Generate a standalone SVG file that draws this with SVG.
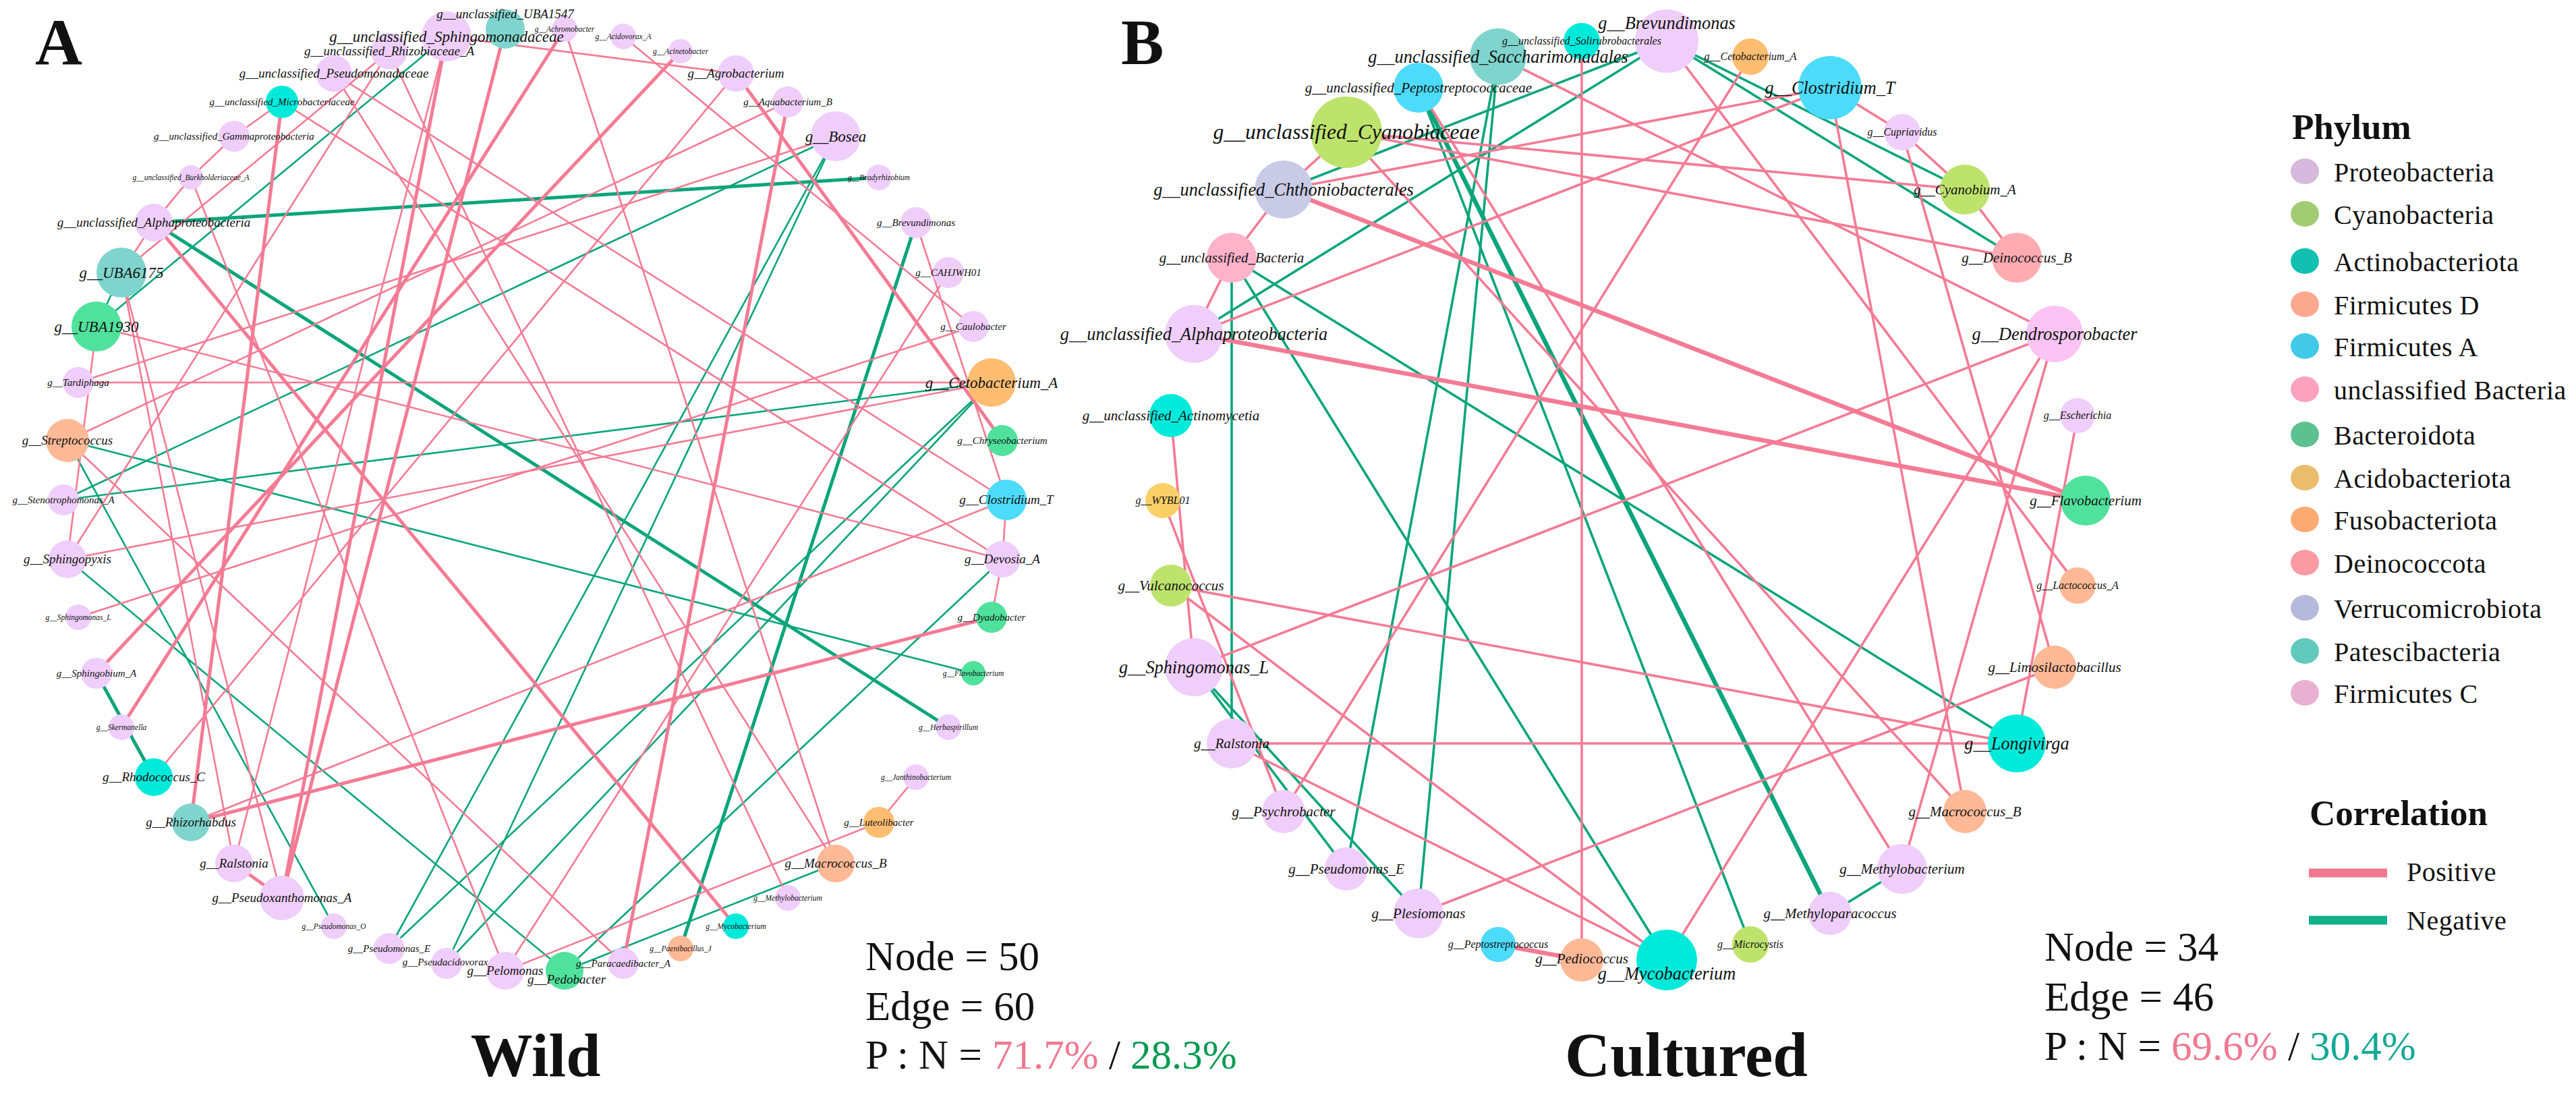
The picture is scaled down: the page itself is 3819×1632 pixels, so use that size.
<svg xmlns="http://www.w3.org/2000/svg" width="3819" height="1632" viewBox="0 0 3819 1632">
<style>
.bg{fill:#ffffff}
.e line{fill:none;stroke-linecap:round}
.p{stroke:#f47b94}
.n{stroke:#0aa57a}
.a1{stroke-width:2.6}
.a2{stroke-width:5}
.b1{stroke-width:3.6}
.b2{stroke-width:6.5}
.pro{fill:#efcefb}.cya{fill:#bde36d}.act{fill:#00eadb}.fd{fill:#ffb996}.fa{fill:#4ddbfb}.ub{fill:#ffb3cb}
.bac{fill:#50e29c}.aci{fill:#f9cf68}.fus{fill:#ffbd72}.dei{fill:#ffabb2}.ver{fill:#c8cae6}.pat{fill:#7fd5cd}.fc{fill:#fbc4f4}
.lb text{font-family:"Liberation Serif","Times New Roman",serif;font-style:italic;fill:#111;text-anchor:middle}
.s11{font-size:11.5px}.s15{font-size:15px}.s19{font-size:19px}.s23{font-size:23px}
.z16{font-size:16px}.z21{font-size:21px}.z26{font-size:26.3px}.z32{font-size:31.6px}
.big{font-family:"Liberation Serif","Times New Roman",serif;font-weight:bold;fill:#111}
.stat{font-family:"Liberation Serif","Times New Roman",serif;font-size:61px;fill:#111}
.leg{font-family:"Liberation Serif","Times New Roman",serif;font-size:40px;fill:#111;letter-spacing:0.5px}
.lh{font-family:"Liberation Serif","Times New Roman",serif;font-size:53px;font-weight:bold;fill:#111}
.lpro{fill:#d6b9dc}.lcya{fill:#a2cc74}.lact{fill:#12c0b2}.lfd{fill:#fca88e}.lfa{fill:#42c9e8}.lub{fill:#fca2bf}
.lbac{fill:#5cc18e}.laci{fill:#e9bd6c}.lfus{fill:#fcaa72}.ldei{fill:#fc9aa4}.lver{fill:#b5b9dc}.lpat{fill:#62c9bd}.lfc{fill:#e9b1d1}
</style>
<rect class="bg" x="0" y="0" width="3819" height="1632"/>
<text class="big" x="52" y="95" font-size="97">A</text>
<text class="big" x="1662" y="95" font-size="95">B</text>

<g id="connectors" class="e">
<!-- Panel A negative -->
<line class="n a2" x1="228" y1="330" x2="1303" y2="263"/>
<line class="n a2" x1="228" y1="330" x2="1406" y2="1078"/>
<line class="n a2" x1="1358" y1="330" x2="1009" y2="1406"/>
<line class="n a1" x1="1239" y1="202" x2="577" y2="1406"/>
<line class="n a1" x1="1239" y1="202" x2="662" y2="1428"/>
<line class="n a1" x1="1470" y1="567" x2="577" y2="1406"/>
<line class="n a1" x1="1470" y1="567" x2="662" y2="1428"/>
<line class="n a1" x1="837" y1="1439" x2="1486" y2="829"/>
<line class="n a1" x1="1239" y1="1280" x2="837" y2="1439"/>
<line class="n a1" x1="100" y1="653" x2="495" y2="1373"/>
<line class="n a1" x1="100" y1="829" x2="837" y2="1439"/>
<line class="n a1" x1="100" y1="653" x2="1443" y2="998"/>
<line class="n a1" x1="94" y1="741" x2="1470" y2="567"/>
<line class="n a1" x1="94" y1="741" x2="1239" y2="202"/>
<line class="n a1" x1="143" y1="484" x2="662" y2="54"/>
<line class="n a1" x1="180" y1="404" x2="143" y2="484"/>
<line class="n a2" x1="143" y1="998" x2="228" y2="1152"/>
<!-- Panel A positive -->
<line class="p a1" x1="116" y1="567" x2="1470" y2="567" stroke-width="2"/>
<line class="p a1" x1="116" y1="567" x2="1239" y2="202"/>
<line class="p a1" x1="662" y1="54" x2="1091" y2="109"/>
<line class="p a2" x1="1009" y1="76" x2="143" y2="998"/>
<line class="p a2" x1="837" y1="43" x2="180" y2="1078"/>
<line class="p a1" x1="1168" y1="151" x2="100" y2="653"/>
<line class="p a2" x1="1168" y1="151" x2="924" y2="1428"/>
<line class="p a2" x1="1091" y1="109" x2="1486" y2="653"/>
<line class="p a2" x1="228" y1="330" x2="1091" y2="1373"/>
<line class="p a1" x1="143" y1="484" x2="100" y2="829"/>
<line class="p a1" x1="418" y1="151" x2="347" y2="202"/>
<line class="p a1" x1="347" y1="202" x2="283" y2="263"/>
<line class="p a1" x1="283" y1="263" x2="228" y2="330"/>
<line class="p a1" x1="180" y1="404" x2="228" y2="330"/>
<line class="p a1" x1="1358" y1="1152" x2="1303" y2="1219"/>
<line class="p a1" x1="1303" y1="1219" x2="749" y2="1439"/>
<line class="p a2" x1="347" y1="1280" x2="418" y2="1331"/>
<line class="p a2" x1="283" y1="1219" x2="1470" y2="915"/>
<line class="p a1" x1="283" y1="1219" x2="1492" y2="741"/>
<line class="p a2" x1="283" y1="1219" x2="418" y2="151"/>
<line class="p a1" x1="228" y1="1152" x2="1091" y2="109"/>
<line class="p a1" x1="1443" y1="484" x2="116" y2="915"/>
<line class="p a1" x1="1406" y1="404" x2="749" y2="1439"/>
<line class="p a1" x1="924" y1="54" x2="1443" y2="484"/>
<line class="p a2" x1="418" y1="1331" x2="749" y2="43"/>
<line class="p a2" x1="418" y1="1331" x2="662" y2="54"/>
<line class="p a1" x1="347" y1="1280" x2="180" y2="404"/>
<line class="p a1" x1="180" y1="404" x2="418" y2="1331"/>
<line class="p a1" x1="180" y1="404" x2="577" y2="76"/>
<line class="p a1" x1="495" y1="109" x2="1492" y2="741"/>
<line class="p a1" x1="577" y1="76" x2="1168" y2="1331"/>
<line class="p a1" x1="418" y1="151" x2="1486" y2="829"/>
<line class="p a1" x1="1486" y1="829" x2="1470" y2="915"/>
<line class="p a1" x1="1492" y1="741" x2="1486" y2="829"/>
<line class="p a1" x1="1358" y1="330" x2="1492" y2="741"/>
<line class="p a1" x1="495" y1="109" x2="1239" y2="1280"/>
<line class="p a1" x1="100" y1="653" x2="924" y2="1428"/>
<line class="p a1" x1="283" y1="263" x2="749" y2="1439"/>
<line class="p a1" x1="100" y1="829" x2="577" y2="76"/>
<line class="p a1" x1="347" y1="1280" x2="662" y2="54"/>
<line class="p a1" x1="143" y1="484" x2="1486" y2="829"/>
<line class="p a1" x1="1470" y1="567" x2="100" y2="829"/>
<line class="p a1" x1="837" y1="43" x2="1239" y2="1280"/>
<!-- Panel B negative -->
<line class="n b1" x1="1826" y1="382" x2="1826" y2="1102"/>
<line class="n b1" x1="1826" y1="382" x2="2471" y2="1423"/>
<line class="n b1" x1="1826" y1="382" x2="2990" y2="1102"/>
<line class="n b1" x1="1770" y1="495" x2="2471" y2="61"/>
<line class="n b1" x1="1903" y1="281" x2="2471" y2="61"/>
<line class="n b2" x1="2103" y1="130" x2="2713" y2="1354"/>
<line class="n b1" x1="2103" y1="130" x2="2595" y2="1400"/>
<line class="n b1" x1="2221" y1="84" x2="2103" y2="1354"/>
<line class="n b1" x1="2221" y1="84" x2="1996" y2="1288"/>
<line class="n b1" x1="2471" y1="61" x2="2913" y2="281"/>
<line class="n b1" x1="2471" y1="61" x2="2990" y2="382"/>
<line class="n b1" x1="1770" y1="989" x2="1996" y2="1288"/>
<line class="n b1" x1="1770" y1="989" x2="2103" y2="1354"/>
<line class="n b1" x1="2713" y1="1354" x2="2820" y2="1288"/>
<!-- Panel B positive -->
<line class="p b1" x1="2345" y1="61" x2="2345" y2="1423"/>
<line class="p b1" x1="1826" y1="1102" x2="2990" y2="1102"/>
<line class="p b2" x1="1770" y1="495" x2="3092" y2="742"/>
<line class="p b2" x1="1903" y1="281" x2="3092" y2="742"/>
<line class="p b1" x1="1996" y1="196" x2="2913" y2="281"/>
<line class="p b1" x1="1996" y1="196" x2="2990" y2="382"/>
<line class="p b1" x1="2471" y1="61" x2="3080" y2="868"/>
<line class="p b1" x1="2103" y1="130" x2="2820" y2="1288"/>
<line class="p b1" x1="1996" y1="196" x2="2913" y2="1203"/>
<line class="p b1" x1="2713" y1="130" x2="2913" y2="1203"/>
<line class="p b1" x1="2713" y1="130" x2="1903" y2="281"/>
<line class="p b1" x1="2713" y1="130" x2="1770" y2="495"/>
<line class="p b1" x1="2595" y1="84" x2="1903" y2="1203"/>
<line class="p b1" x1="2713" y1="130" x2="2820" y2="196"/>
<line class="p b1" x1="2820" y1="196" x2="2913" y2="281"/>
<line class="p b1" x1="2820" y1="196" x2="3046" y2="989"/>
<line class="p b1" x1="2990" y1="382" x2="2913" y2="281"/>
<line class="p b1" x1="2221" y1="84" x2="3046" y2="495"/>
<line class="p b1" x1="3046" y1="495" x2="1770" y2="989"/>
<line class="p b1" x1="3046" y1="495" x2="2471" y2="1423"/>
<line class="p b1" x1="3046" y1="495" x2="2820" y2="1288"/>
<line class="p b1" x1="3080" y1="616" x2="2990" y2="1102"/>
<line class="p b1" x1="1736" y1="868" x2="2990" y2="1102"/>
<line class="p b1" x1="1736" y1="868" x2="2471" y2="1423"/>
<line class="p b1" x1="1724" y1="742" x2="1903" y2="1203"/>
<line class="p b1" x1="1736" y1="616" x2="1770" y2="989"/>
<line class="p b1" x1="1770" y1="495" x2="1826" y2="382"/>
<line class="p b1" x1="1826" y1="382" x2="1903" y2="281"/>
<line class="p b1" x1="1903" y1="281" x2="1996" y2="196"/>
<line class="p b1" x1="1826" y1="1102" x2="2471" y2="1423"/>
<line class="p b1" x1="2103" y1="1354" x2="3046" y2="989"/>
<line class="p b2" x1="2221" y1="1400" x2="2345" y2="1423"/>
</g>

<g id="nodes-A">
<g id="a-Achromobacter"><circle class="pro" cx="837" cy="43" r="19"/></g>
<g id="a-Acidovorax_A"><circle class="pro" cx="924" cy="54" r="19"/></g>
<g id="a-Acinetobacter"><circle class="pro" cx="1009" cy="76" r="18"/></g>
<g id="a-Agrobacterium"><circle class="pro" cx="1091" cy="109" r="27"/></g>
<g id="a-Aquabacterium_B"><circle class="pro" cx="1168" cy="151" r="23"/></g>
<g id="a-Bosea"><circle class="pro" cx="1239" cy="202" r="37"/></g>
<g id="a-Bradyrhizobium"><circle class="pro" cx="1303" cy="263" r="19"/></g>
<g id="a-Brevundimonas"><circle class="pro" cx="1358" cy="330" r="23"/></g>
<g id="a-CAHJWH01"><circle class="pro" cx="1406" cy="404" r="23"/></g>
<g id="a-Caulobacter"><circle class="pro" cx="1443" cy="484" r="23"/></g>
<g id="a-Cetobacterium_A"><circle class="fus" cx="1470" cy="567" r="36"/></g>
<g id="a-Chryseobacterium"><circle class="bac" cx="1486" cy="653" r="23"/></g>
<g id="a-Clostridium_T"><circle class="fa" cx="1492" cy="741" r="30"/></g>
<g id="a-Devosia_A"><circle class="pro" cx="1486" cy="829" r="27"/></g>
<g id="a-Dyadobacter"><circle class="bac" cx="1470" cy="915" r="23"/></g>
<g id="a-Flavobacterium"><circle class="bac" cx="1443" cy="998" r="18"/></g>
<g id="a-Herbaspirillum"><circle class="pro" cx="1406" cy="1078" r="19"/></g>
<g id="a-Janthinobacterium"><circle class="pro" cx="1358" cy="1152" r="19"/></g>
<g id="a-Luteolibacter"><circle class="fus" cx="1303" cy="1219" r="23"/></g>
<g id="a-Macrococcus_B"><circle class="fd" cx="1239" cy="1280" r="28"/></g>
<g id="a-Methylobacterium"><circle class="pro" cx="1168" cy="1331" r="19"/></g>
<g id="a-Mycobacterium"><circle class="act" cx="1091" cy="1373" r="19"/></g>
<g id="a-Paenibacillus_J"><circle class="fd" cx="1009" cy="1406" r="19"/></g>
<g id="a-Paracaedibacter_A"><circle class="pro" cx="924" cy="1428" r="23"/></g>
<g id="a-Pedobacter"><circle class="bac" cx="837" cy="1439" r="28"/></g>
<g id="a-Pelomonas"><circle class="pro" cx="749" cy="1439" r="28"/></g>
<g id="a-Pseudacidovorax"><circle class="pro" cx="662" cy="1428" r="23"/></g>
<g id="a-Pseudomonas_E"><circle class="pro" cx="577" cy="1406" r="23"/></g>
<g id="a-Pseudomonas_O"><circle class="pro" cx="495" cy="1373" r="19"/></g>
<g id="a-Pseudoxanthomonas_A"><circle class="pro" cx="418" cy="1331" r="33"/></g>
<g id="a-Ralstonia"><circle class="pro" cx="347" cy="1280" r="28"/></g>
<g id="a-Rhizorhabdus"><circle class="pat" cx="283" cy="1219" r="28"/></g>
<g id="a-Rhodococcus_C"><circle class="act" cx="228" cy="1152" r="28"/></g>
<g id="a-Skermanella"><circle class="pro" cx="180" cy="1078" r="19"/></g>
<g id="a-Sphingobium_A"><circle class="pro" cx="143" cy="998" r="23"/></g>
<g id="a-Sphingomonas_L"><circle class="pro" cx="116" cy="915" r="19"/></g>
<g id="a-Sphingopyxis"><circle class="pro" cx="100" cy="829" r="28"/></g>
<g id="a-Stenotrophomonas_A"><circle class="pro" cx="94" cy="741" r="23"/></g>
<g id="a-Streptococcus"><circle class="fd" cx="100" cy="653" r="32"/></g>
<g id="a-Tardiphaga"><circle class="pro" cx="116" cy="567" r="23"/></g>
<g id="a-UBA1930"><circle class="bac" cx="143" cy="484" r="37"/></g>
<g id="a-UBA6175"><circle class="pat" cx="180" cy="404" r="37"/></g>
<g id="a-unclassified_Alphaproteobacteria"><circle class="pro" cx="228" cy="330" r="28"/></g>
<g id="a-unclassified_Burkholderiaceae_A"><circle class="pro" cx="283" cy="263" r="18"/></g>
<g id="a-unclassified_Gammaproteobacteria"><circle class="pro" cx="347" cy="202" r="23"/></g>
<g id="a-unclassified_Microbacteriaceae"><circle class="act" cx="418" cy="151" r="24"/></g>
<g id="a-unclassified_Pseudomonadaceae"><circle class="pro" cx="495" cy="109" r="27"/></g>
<g id="a-unclassified_Rhizobiaceae_A"><circle class="pro" cx="577" cy="76" r="27"/></g>
<g id="a-unclassified_Sphingomonadaceae"><circle class="pro" cx="662" cy="54" r="37"/></g>
<g id="a-unclassified_UBA1547"><circle class="pat" cx="749" cy="43" r="29"/></g>
</g>

<g id="nodes-B">
<g id="b-Brevundimonas"><circle class="pro" cx="2471" cy="61" r="47"/></g>
<g id="b-Cetobacterium_A"><circle class="fus" cx="2595" cy="84" r="27"/></g>
<g id="b-Clostridium_T"><circle class="fa" cx="2713" cy="130" r="47"/></g>
<g id="b-Cupriavidus"><circle class="pro" cx="2820" cy="196" r="27"/></g>
<g id="b-Cyanobium_A"><circle class="cya" cx="2913" cy="281" r="37"/></g>
<g id="b-Deinococcus_B"><circle class="dei" cx="2990" cy="382" r="37"/></g>
<g id="b-Dendrosporobacter"><circle class="fc" cx="3046" cy="495" r="42"/></g>
<g id="b-Escherichia"><circle class="pro" cx="3080" cy="616" r="26"/></g>
<g id="b-Flavobacterium"><circle class="bac" cx="3092" cy="742" r="37"/></g>
<g id="b-Lactococcus_A"><circle class="fd" cx="3080" cy="868" r="27"/></g>
<g id="b-Limosilactobacillus"><circle class="fd" cx="3046" cy="989" r="32"/></g>
<g id="b-Longivirga"><circle class="act" cx="2990" cy="1102" r="43"/></g>
<g id="b-Macrococcus_B"><circle class="fd" cx="2913" cy="1203" r="32"/></g>
<g id="b-Methylobacterium"><circle class="pro" cx="2820" cy="1288" r="37"/></g>
<g id="b-Methyloparacoccus"><circle class="pro" cx="2713" cy="1354" r="32"/></g>
<g id="b-Microcystis"><circle class="cya" cx="2595" cy="1400" r="27"/></g>
<g id="b-Mycobacterium"><circle class="act" cx="2471" cy="1423" r="45"/></g>
<g id="b-Pediococcus"><circle class="fd" cx="2345" cy="1423" r="32"/></g>
<g id="b-Peptostreptococcus"><circle class="fa" cx="2221" cy="1400" r="26"/></g>
<g id="b-Plesiomonas"><circle class="pro" cx="2103" cy="1354" r="37"/></g>
<g id="b-Pseudomonas_E"><circle class="pro" cx="1996" cy="1288" r="32"/></g>
<g id="b-Psychrobacter"><circle class="pro" cx="1903" cy="1203" r="32"/></g>
<g id="b-Ralstonia"><circle class="pro" cx="1826" cy="1102" r="37"/></g>
<g id="b-Sphingomonas_L"><circle class="pro" cx="1770" cy="989" r="43"/></g>
<g id="b-Vulcanococcus"><circle class="cya" cx="1736" cy="868" r="31"/></g>
<g id="b-WYBL01"><circle class="aci" cx="1724" cy="742" r="26"/></g>
<g id="b-unclassified_Actinomycetia"><circle class="act" cx="1736" cy="616" r="32"/></g>
<g id="b-unclassified_Alphaproteobacteria"><circle class="pro" cx="1770" cy="495" r="43"/></g>
<g id="b-unclassified_Bacteria"><circle class="ub" cx="1826" cy="382" r="37"/></g>
<g id="b-unclassified_Chthoniobacterales"><circle class="ver" cx="1903" cy="281" r="43"/></g>
<g id="b-unclassified_Cyanobiaceae"><circle class="cya" cx="1996" cy="196" r="53"/></g>
<g id="b-unclassified_Peptostreptococcaceae"><circle class="fa" cx="2103" cy="130" r="37"/></g>
<g id="b-unclassified_Saccharimonadales"><circle class="pat" cx="2221" cy="84" r="42"/></g>
<g id="b-unclassified_Solirubrobacterales"><circle class="act" cx="2345" cy="61" r="27"/></g>
</g>

<g id="labels-A" class="lb">
<text class="s11" x="837" y="47">g__Achromobacter</text>
<text class="s11" x="924" y="58">g__Acidovorax_A</text>
<text class="s11" x="1009" y="80">g__Acinetobacter</text>
<text class="s19" x="1091" y="115">g__Agrobacterium</text>
<text class="s15" x="1168" y="156">g__Aquabacterium_B</text>
<text class="s23" x="1239" y="210">g__Bosea</text>
<text class="s11" x="1303" y="267">g__Bradyrhizobium</text>
<text class="s15" x="1358" y="335">g__Brevundimonas</text>
<text class="s15" x="1406" y="409">g__CAHJWH01</text>
<text class="s15" x="1443" y="489">g__Caulobacter</text>
<text class="s23" x="1470" y="575">g__Cetobacterium_A</text>
<text class="s15" x="1486" y="658">g__Chryseobacterium</text>
<text class="s19" x="1492" y="747">g__Clostridium_T</text>
<text class="s19" x="1486" y="835">g__Devosia_A</text>
<text class="s15" x="1470" y="920">g__Dyadobacter</text>
<text class="s11" x="1443" y="1002">g__Flavobacterium</text>
<text class="s11" x="1406" y="1082">g__Herbaspirillum</text>
<text class="s11" x="1358" y="1156">g__Janthinobacterium</text>
<text class="s15" x="1303" y="1224">g__Luteolibacter</text>
<text class="s19" x="1239" y="1286">g__Macrococcus_B</text>
<text class="s11" x="1168" y="1335">g__Methylobacterium</text>
<text class="s11" x="1091" y="1377">g__Mycobacterium</text>
<text class="s11" x="1009" y="1410">g__Paenibacillus_J</text>
<text class="s15" x="924" y="1433">g__Paracaedibacter_A</text>
<text class="s19" x="840" y="1458">g__Pedobacter</text>
<text class="s19" x="749" y="1445">g__Pelomonas</text>
<text class="s15" x="660" y="1431">g__Pseudacidovorax</text>
<text class="s15" x="577" y="1411">g__Pseudomonas_E</text>
<text class="s11" x="495" y="1377">g__Pseudomonas_O</text>
<text class="s19" x="418" y="1337">g__Pseudoxanthomonas_A</text>
<text class="s19" x="347" y="1286">g__Ralstonia</text>
<text class="s19" x="283" y="1225">g__Rhizorhabdus</text>
<text class="s19" x="228" y="1158">g__Rhodococcus_C</text>
<text class="s11" x="180" y="1082">g__Skermanella</text>
<text class="s15" x="143" y="1003">g__Sphingobium_A</text>
<text class="s11" x="116" y="919">g__Sphingomonas_L</text>
<text class="s19" x="100" y="835">g__Sphingopyxis</text>
<text class="s15" x="94" y="746">g__Stenotrophomonas_A</text>
<text class="s19" x="100" y="659">g__Streptococcus</text>
<text class="s15" x="116" y="572">g__Tardiphaga</text>
<text class="s23" x="143" y="492">g__UBA1930</text>
<text class="s23" x="180" y="412">g__UBA6175</text>
<text class="s19" x="228" y="336">g__unclassified_Alphaproteobacteria</text>
<text class="s11" x="283" y="267">g__unclassified_Burkholderiaceae_A</text>
<text class="s15" x="347" y="207">g__unclassified_Gammaproteobacteria</text>
<text class="s15" x="418" y="156">g__unclassified_Microbacteriaceae</text>
<text class="s19" x="495" y="115">g__unclassified_Pseudomonadaceae</text>
<text class="s19" x="577" y="82">g__unclassified_Rhizobiaceae_A</text>
<text class="s23" x="662" y="62">g__unclassified_Sphingomonadaceae</text>
<text class="s19" x="749" y="27">g__unclassified_UBA1547</text>
</g>

<g id="labels-B" class="lb">
<text class="z26" x="2471" y="43">g__Brevundimonas</text>
<text class="z16" x="2595" y="89">g__Cetobacterium_A</text>
<text class="z26" x="2713" y="139">g__Clostridium_T</text>
<text class="z16" x="2820" y="201">g__Cupriavidus</text>
<text class="z21" x="2913" y="288">g__Cyanobium_A</text>
<text class="z21" x="2990" y="389">g__Deinococcus_B</text>
<text class="z26" x="3046" y="504">g__Dendrosporobacter</text>
<text class="z16" x="3080" y="621">g__Escherichia</text>
<text class="z21" x="3092" y="749">g__Flavobacterium</text>
<text class="z16" x="3080" y="873">g__Lactococcus_A</text>
<text class="z21" x="3046" y="996">g__Limosilactobacillus</text>
<text class="z26" x="2990" y="1111">g__Longivirga</text>
<text class="z21" x="2913" y="1210">g__Macrococcus_B</text>
<text class="z21" x="2820" y="1295">g__Methylobacterium</text>
<text class="z21" x="2713" y="1361">g__Methyloparacoccus</text>
<text class="z16" x="2595" y="1405">g__Microcystis</text>
<text class="z26" x="2471" y="1452">g__Mycobacterium</text>
<text class="z21" x="2345" y="1428">g__Pediococcus</text>
<text class="z16" x="2221" y="1405">g__Peptostreptococcus</text>
<text class="z21" x="2103" y="1361">g__Plesiomonas</text>
<text class="z21" x="1996" y="1295">g__Pseudomonas_E</text>
<text class="z21" x="1903" y="1210">g__Psychrobacter</text>
<text class="z21" x="1826" y="1109">g__Ralstonia</text>
<text class="z26" x="1770" y="998">g__Sphingomonas_L</text>
<text class="z21" x="1736" y="875">g__Vulcanococcus</text>
<text class="z16" x="1724" y="747">g__WYBL01</text>
<text class="z21" x="1736" y="623">g__unclassified_Actinomycetia</text>
<text class="z26" x="1770" y="504">g__unclassified_Alphaproteobacteria</text>
<text class="z21" x="1826" y="389">g__unclassified_Bacteria</text>
<text class="z26" x="1903" y="290">g__unclassified_Chthoniobacterales</text>
<text class="z32" x="1996" y="206">g__unclassified_Cyanobiaceae</text>
<text class="z21" x="2103" y="137">g__unclassified_Peptostreptococcaceae</text>
<text class="z26" x="2221" y="93">g__unclassified_Saccharimonadales</text>
<text class="z16" x="2345" y="66">g__unclassified_Solirubrobacterales</text>
</g>

<g id="stats">
<text class="stat" x="1283" y="1438">Node = 50</text>
<text class="stat" x="1283" y="1512">Edge = 60</text>
<text class="stat" x="1283" y="1584">P : N = <tspan fill="#f07890">71.7%</tspan> / <tspan fill="#079a52">28.3%</tspan></text>
<text class="stat" x="3031" y="1424">Node = 34</text>
<text class="stat" x="3031" y="1498">Edge = 46</text>
<text class="stat" x="3031" y="1571">P : N = <tspan fill="#f07890">69.6%</tspan> / <tspan fill="#14a896">30.4%</tspan></text>
<text class="big" x="794" y="1595" font-size="92" text-anchor="middle">Wild</text>
<text class="big" x="2500" y="1595" font-size="93" text-anchor="middle">Cultured</text>
</g>

<g id="legend">
<text class="lh" x="3398" y="206">Phylum</text>
<ellipse class="lpro" cx="3417" cy="254" rx="21" ry="19"/><text class="leg" x="3460" y="269">Proteobacteria</text>
<ellipse class="lcya" cx="3417" cy="317" rx="21" ry="19"/><text class="leg" x="3460" y="332">Cyanobacteria</text>
<ellipse class="lact" cx="3417" cy="387" rx="21" ry="19"/><text class="leg" x="3460" y="402">Actinobacteriota</text>
<ellipse class="lfd" cx="3417" cy="451" rx="21" ry="19"/><text class="leg" x="3460" y="466">Firmicutes D</text>
<ellipse class="lfa" cx="3417" cy="513" rx="21" ry="19"/><text class="leg" x="3460" y="528">Firmicutes A</text>
<ellipse class="lub" cx="3417" cy="577" rx="21" ry="19"/><text class="leg" x="3460" y="592">unclassified Bacteria</text>
<ellipse class="lbac" cx="3417" cy="644" rx="21" ry="19"/><text class="leg" x="3460" y="659">Bacteroidota</text>
<ellipse class="laci" cx="3417" cy="708" rx="21" ry="19"/><text class="leg" x="3460" y="723">Acidobacteriota</text>
<ellipse class="lfus" cx="3417" cy="770" rx="21" ry="19"/><text class="leg" x="3460" y="785">Fusobacteriota</text>
<ellipse class="ldei" cx="3417" cy="834" rx="21" ry="19"/><text class="leg" x="3460" y="849">Deinococcota</text>
<ellipse class="lver" cx="3417" cy="901" rx="21" ry="19"/><text class="leg" x="3460" y="916">Verrucomicrobiota</text>
<ellipse class="lpat" cx="3417" cy="965" rx="21" ry="19"/><text class="leg" x="3460" y="980">Patescibacteria</text>
<ellipse class="lfc" cx="3417" cy="1027" rx="21" ry="19"/><text class="leg" x="3460" y="1042">Firmicutes C</text>
<text class="lh" x="3424" y="1223">Correlation</text>
<line x1="3423" y1="1294" x2="3539" y2="1294" stroke="#f07890" stroke-width="13"/>
<text class="leg" x="3568" y="1306">Positive</text>
<line x1="3423" y1="1364" x2="3539" y2="1364" stroke="#10b088" stroke-width="13"/>
<text class="leg" x="3568" y="1378">Negative</text>
</g>
</svg>
